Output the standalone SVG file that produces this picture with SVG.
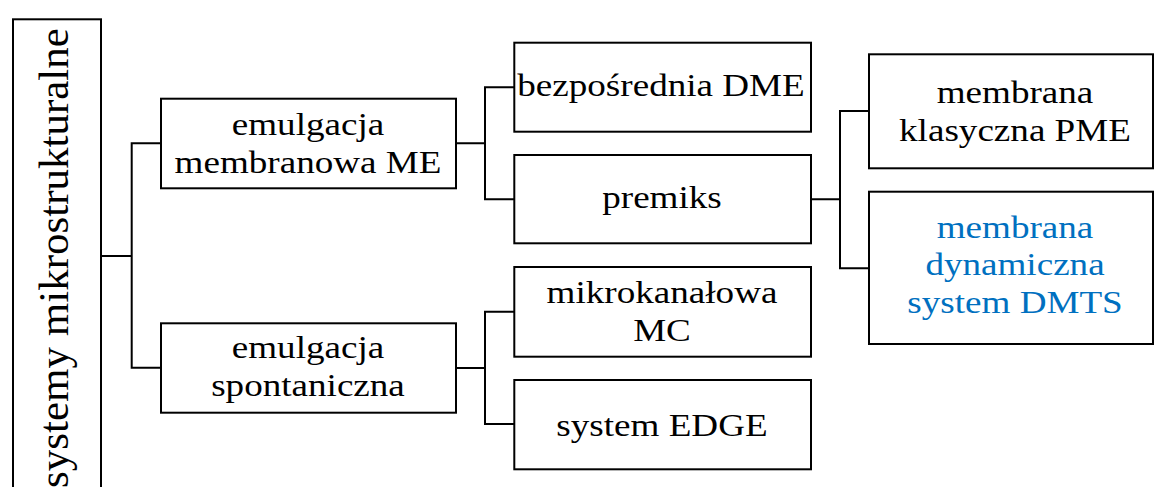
<svg xmlns="http://www.w3.org/2000/svg" width="1154" height="487" viewBox="0 0 1154 487">
<style>
.box{fill:#fff;stroke:#000;stroke-width:2}
.con{fill:none;stroke:#000;stroke-width:2}
.t{font-family:'Liberation Serif',Tinos,'Times New Roman',Times,serif;font-size:32px;fill:#000;text-anchor:middle}
.blue{fill:#0070C0}
.root{font-family:'Liberation Serif',Tinos,'Times New Roman',Times,serif;font-size:43px;fill:#000;text-anchor:middle}
</style>
<rect width="1154" height="487" fill="#fff"/>
<g id="connectors">
<path class="con" d="M101,256 H131.7 M161,143.3 H131.7 V367.7 H161"/>
<path class="con" d="M456,143.3 H485 M514.3,87.3 H485 V199.3 H514.3"/>
<path class="con" d="M456,368 H485 M514.3,311.7 H485 V424 H514.3"/>
<path class="con" d="M811,199.3 H840 M869,111 H840 V268.3 H869"/>
</g>
<g id="root">
<rect class="box" x="13" y="19.3" width="88" height="490"/>
<text class="root" transform="translate(68,258) rotate(-90)">systemy mikrostrukturalne</text>
</g>
<g id="me">
<rect class="box" x="161" y="98.7" width="295" height="89.6"/>
<text class="t" transform="translate(308,0) scale(1.16,1)"><tspan x="0" y="135.5">emulgacja</tspan><tspan x="0" y="173">membranowa ME</tspan></text>
</g>
<g id="spont">
<rect class="box" x="161" y="323.3" width="295" height="89.4"/>
<text class="t" transform="translate(308,0) scale(1.16,1)"><tspan x="0" y="358.5">emulgacja</tspan><tspan x="0" y="396.5">spontaniczna</tspan></text>
</g>
<g id="dme">
<rect class="box" x="514.3" y="42.7" width="296.7" height="89"/>
<text class="t" transform="translate(661,0) scale(1.16,1)" x="0" y="96.5">bezpośrednia DME</text>
</g>
<g id="premiks">
<rect class="box" x="514.3" y="155" width="296.7" height="88.3"/>
<text class="t" transform="translate(662,0) scale(1.16,1)" x="0" y="208.5">premiks</text>
</g>
<g id="mc">
<rect class="box" x="514.3" y="267" width="296.7" height="89.7"/>
<text class="t" transform="translate(662,0) scale(1.16,1)"><tspan x="0" y="303.3">mikrokanałowa</tspan><tspan x="0" y="341.2">MC</tspan></text>
</g>
<g id="edge">
<rect class="box" x="514.3" y="380" width="296.7" height="89.3"/>
<text class="t" transform="translate(662,0) scale(1.16,1)" x="0" y="436">system EDGE</text>
</g>
<g id="pme">
<rect class="box" x="869" y="54.3" width="284" height="114"/>
<text class="t" transform="translate(1015,0) scale(1.16,1)"><tspan x="0" y="103.3">membrana</tspan><tspan x="0" y="140.7">klasyczna PME</tspan></text>
</g>
<g id="dmts">
<rect class="box" x="869" y="191.7" width="284" height="152.3"/>
<text class="t blue" transform="translate(1015,0) scale(1.16,1)"><tspan x="0" y="238">membrana</tspan><tspan x="0" y="275.5">dynamiczna</tspan><tspan x="0" y="313">system DMTS</tspan></text>
</g>
</svg>
